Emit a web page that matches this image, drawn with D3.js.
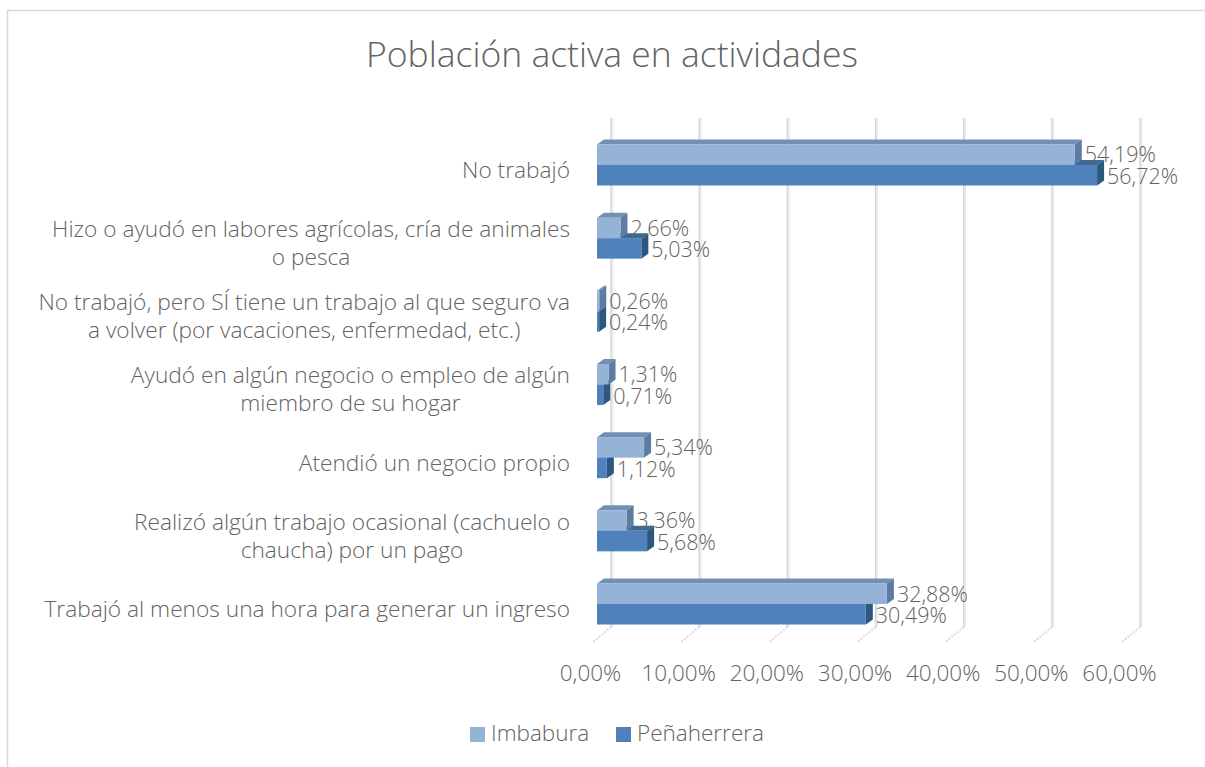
<!DOCTYPE html>
<html>
<head>
<meta charset="utf-8">
<script src="https://cdn.jsdelivr.net/npm/d3@7/dist/d3.min.js"></script>
<style>
  html, body { margin: 0; padding: 0; background: #fff; }
  svg { display: block; }
  text { font-family: "Open Sans", "Noto Sans", sans-serif; fill: #636363; font-weight: 300; }
</style>
</head>
<body>
<svg id="chart" width="1205" height="767"></svg>
<script>
// Activity categories, listed top to bottom
const categories = [
  "No trabajó",
  "Hizo o ayudó en labores agrícolas, cría de animales\no pesca",
  "No trabajó, pero SÍ tiene un trabajo al que seguro va\na volver (por vacaciones, enfermedad, etc.)",
  "Ayudó en algún negocio o empleo de algún\nmiembro de su hogar",
  "Atendió un negocio propio",
  "Realizó algún trabajo ocasional (cachuelo o\nchaucha) por un pago",
  "Trabajó al menos una hora para generar un ingreso"
];
const seriesNames = ["Imbabura", "Peñaherrera"];
const imbabura    = [54.19, 2.66, 0.26, 1.31, 5.34, 3.36, 32.88];
const penaherrera = [56.72, 5.03, 0.24, 0.71, 1.12, 5.68, 30.49];
const xTicks = [0, 10, 20, 30, 40, 50, 60];
const title = "Población activa en actividades";

const colors = {
  Imbabura:    { front: "#95b3d7", top: "#7390b4", side: "#5e7ca3" },
  "Peñaherrera": { front: "#4f81bd", top: "#3b6998", side: "#2c577f" }
};

const svg = d3.select("#chart");
const esLocale = d3.formatLocale({ decimal: ",", thousands: ".", grouping: [3], currency: ["$", ""] });
const fmt = v => esLocale.format(".2f")(v) + "%";

// Chart frame
svg.append("rect")
  .attr("x", 7.5).attr("y", 10.5).attr("width", 1210).attr("height", 770)
  .attr("fill", "none").attr("stroke", "#d9d9d9").attr("stroke-width", 1.5);

// Title
svg.append("text")
  .attr("x", 612).attr("y", 67)
  .attr("text-anchor", "middle")
  .style("font-size", "35.5px")
  .text(title);

const x = d3.scaleLinear().domain([0, 60]).range([597, 1126]);
const y = d3.scaleBand().domain(categories).range([133.4, 645.6]);

// 3D depth offset of the bars and back wall
const depthX = 7, depthY = -5;
const wallX = 14;

// Back wall gridlines and floor hatches
const grid = svg.append("g");
xTicks.forEach(v => {
  const gx = x(v) + wallX;
  grid.append("line")
    .attr("x1", gx + 1).attr("x2", gx + 1).attr("y1", 118).attr("y2", 627)
    .attr("stroke", "#ececec").attr("stroke-width", 3);
  grid.append("line")
    .attr("x1", gx).attr("x2", gx).attr("y1", 118).attr("y2", 627)
    .attr("stroke", "#d4d4d4").attr("stroke-width", 1.2);
  grid.append("line")
    .attr("x1", gx).attr("y1", 627).attr("x2", gx - 18).attr("y2", 642)
    .attr("stroke", "#d9d9d9").attr("stroke-width", 2)
    .attr("stroke-dasharray", "2,1.5");
});

// Bars
const barH = 20.5;
const bars = svg.append("g");
function drawBar(v, y0, c) {
  const x0 = x(0), x1 = x(v);
  const y1 = y0 + barH;
  // top face
  bars.append("path")
    .attr("d", `M${x0},${y0} L${x0 + depthX},${y0 + depthY} L${x1 + depthX},${y0 + depthY} L${x1},${y0} Z`)
    .attr("fill", c.top);
  // right face
  bars.append("path")
    .attr("d", `M${x1},${y0} L${x1 + depthX},${y0 + depthY} L${x1 + depthX},${y1 + depthY} L${x1},${y1} Z`)
    .attr("fill", c.side);
  // front face
  bars.append("rect")
    .attr("x", x0).attr("y", y0).attr("width", Math.max(0, x1 - x0)).attr("height", barH)
    .attr("fill", c.front);
}

categories.forEach((cat, i) => {
  const gc = y(cat) + y.bandwidth() / 2 - 5;
  // lower series first so the upper bar's front face covers its top
  drawBar(penaherrera[i], gc, colors["Peñaherrera"]);
  drawBar(imbabura[i], gc - barH, colors.Imbabura);
});

// Data labels
const labels = svg.append("g").style("font-size", "21.5px");
categories.forEach((cat, i) => {
  const gc = y(cat) + y.bandwidth() / 2 - 5;
  labels.append("text")
    .attr("x", x(imbabura[i]) + 10).attr("y", gc - barH / 2 + 2)
    .attr("dominant-baseline", "middle")
    .text(fmt(imbabura[i]));
  labels.append("text")
    .attr("x", x(penaherrera[i]) + 10).attr("y", gc + barH / 2 + 3)
    .attr("dominant-baseline", "middle")
    .text(fmt(penaherrera[i]));
});

// Category labels: right-aligned block, lines centred within it
const catG = svg.append("g").style("font-size", "22.7px");
const lineH = 28;
categories.forEach(cat => {
  const lines = cat.split("\n");
  const cy = y(cat) + y.bandwidth() / 2;
  const t = catG.append("text").attr("text-anchor", "middle");
  lines.forEach((ln, j) => {
    t.append("tspan")
      .attr("y", cy + (j - (lines.length - 1) / 2) * lineH)
      .attr("dy", "0.35em")
      .text(ln);
  });
  let w = 0;
  t.selectAll("tspan").each(function () { w = Math.max(w, this.getComputedTextLength()); });
  t.selectAll("tspan").attr("x", 570 - w / 2);
});

// Value axis labels
const axis = d3.axisBottom(x).tickValues(xTicks).tickFormat(fmt).tickSize(0).tickPadding(0);
const axG = svg.append("g").attr("transform", "translate(-7,665)").call(axis);
axG.select(".domain").remove();
axG.selectAll("text")
  .style("font-size", "22.5px")
  .style("font-family", "'Open Sans', 'Noto Sans', sans-serif")
  .style("font-weight", "300")
  .attr("fill", "#636363");

// Legend
const legend = svg.append("g").style("font-size", "22.5px");
const legendX = [470, 616];
seriesNames.forEach((s, i) => {
  legend.append("rect")
    .attr("x", legendX[i]).attr("y", 727).attr("width", 15).attr("height", 15)
    .attr("fill", colors[s].front);
  legend.append("text")
    .attr("x", legendX[i] + 21).attr("y", 735)
    .attr("dominant-baseline", "middle")
    .text(s);
});
</script>
</body>
</html>
